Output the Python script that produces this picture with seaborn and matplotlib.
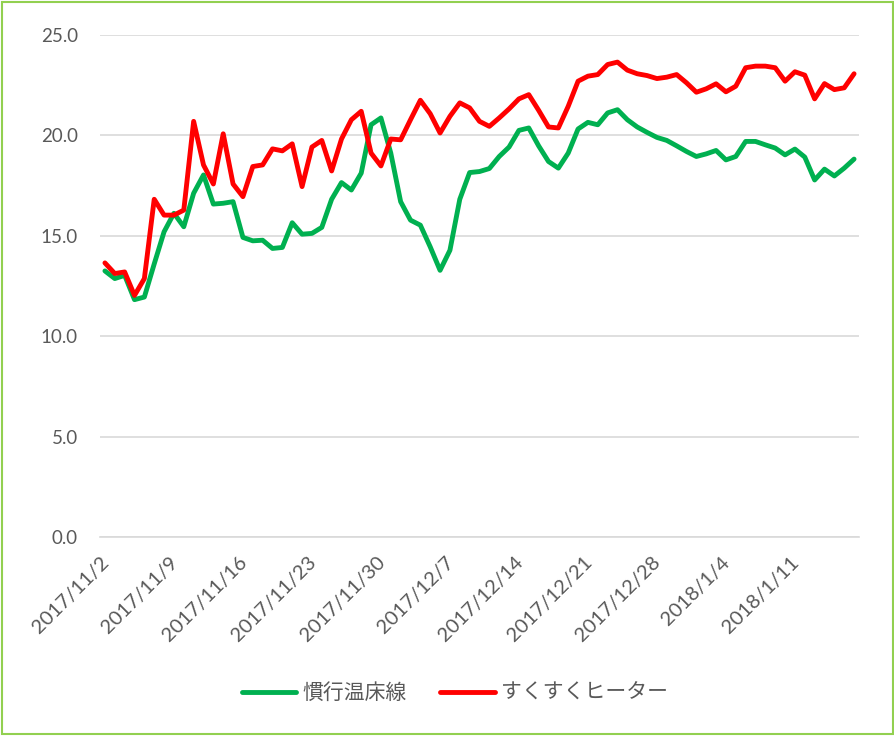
import pandas as pd
import numpy as np
import seaborn as sns
import matplotlib.pyplot as plt
import matplotlib.dates as mdates
from matplotlib.patches import Rectangle

# データ (2017/11/2 ～ 2018/1/17, 日別)
start_date = '2017-11-02'
end_date = '2018-01-17'
tick_dates = ['2017-11-02', '2017-11-09', '2017-11-16', '2017-11-23', '2017-11-30', '2017-12-07',
              '2017-12-14', '2017-12-21', '2017-12-28', '2018-01-04', '2018-01-11']
tick_labels = ['2017/11/2', '2017/11/9', '2017/11/16', '2017/11/23', '2017/11/30', '2017/12/7',
               '2017/12/14', '2017/12/21', '2017/12/28', '2018/1/4', '2018/1/11']
y_ticks = [0, 5, 10, 15, 20, 25]

kanko = [13.25, 12.87, 13.03, 11.82, 11.95, 13.6, 15.2, 16.12, 15.45, 17.12,
         18.03, 16.58, 16.62, 16.7, 14.92, 14.75, 14.78, 14.37, 14.42, 15.65,
         15.08, 15.12, 15.42, 16.82, 17.65, 17.28, 18.12, 20.53, 20.87, 19.12,
         16.7, 15.78, 15.53, 14.45, 13.28, 14.28, 16.82, 18.15, 18.2, 18.35,
         18.95, 19.42, 20.25, 20.37, 19.48, 18.7, 18.37, 19.12, 20.32, 20.65,
         20.53, 21.12, 21.28, 20.78, 20.42, 20.15, 19.9, 19.75, 19.48, 19.2,
         18.95, 19.08, 19.25, 18.78, 18.95, 19.7, 19.7, 19.53, 19.37, 19.03,
         19.32, 18.92, 17.78, 18.32, 17.98, 18.37, 18.82]

sukusuku = [13.65, 13.12, 13.2, 12.03, 12.87, 16.82, 16.03, 16.03, 16.28, 20.7,
            18.53, 17.58, 20.08, 17.58, 16.95, 18.45, 18.53, 19.33, 19.23, 19.58,
            17.45, 19.42, 19.75, 18.23, 19.82, 20.78, 21.2, 19.12, 18.48, 19.82,
            19.78, 20.78, 21.75, 21.08, 20.12, 20.95, 21.62, 21.37, 20.7, 20.45,
            20.87, 21.32, 21.82, 22.03, 21.25, 20.42, 20.37, 21.45, 22.7, 22.95,
            23.03, 23.53, 23.65, 23.25, 23.07, 22.98, 22.83, 22.9, 23.03, 22.62,
            22.15, 22.32, 22.57, 22.17, 22.45, 23.37, 23.45, 23.45, 23.37, 22.7,
            23.17, 23.0, 21.82, 22.58, 22.28, 22.37, 23.07]

series_names = ['慣行温床線', 'すくすくヒーター']
colors = ['#00B050', '#FF0000']

dates = pd.date_range(start_date, end_date, freq='D')
df = pd.DataFrame({'日付': list(dates) * 2,
                   '温度': kanko + sukusuku,
                   '系列': [series_names[0]] * len(kanko) + [series_names[1]] * len(sukusuku)})

sns.set_theme(style='white')
plt.rcParams['font.family'] = ['Lato', 'Noto Sans CJK JP', 'DejaVu Sans']

fig = plt.figure(figsize=(8.95, 7.36), dpi=100)
ax = fig.add_axes([100 / 895, 1 - 537 / 736, 759 / 895, 502 / 736])

sns.lineplot(data=df, x='日付', y='温度', hue='系列', palette=colors,
             linewidth=3.5, ax=ax, legend=False)

# 軸 (日付は区間の中央に点、目盛は区間の境界)
x0 = mdates.date2num(dates[0]) - 0.5
x1 = mdates.date2num(dates[-1]) + 0.5
ax.set_xlim(x0, x1)
ax.set_ylim(0, 25)
ax.set_yticks(y_ticks)
ax.set_yticklabels([f'{v:.1f}' for v in y_ticks])
tick_pos = [mdates.date2num(pd.Timestamp(d)) - 0.5 for d in tick_dates]
ax.set_xticks(tick_pos + [x1])
ax.set_xticklabels(tick_labels + [''], rotation=45, ha='right', rotation_mode='anchor')
ax.set_xlabel('')
ax.set_ylabel('')

ax.grid(axis='y', color='#D9D9D9', linewidth=1.2)
ax.set_axisbelow(True)
for s in ['left', 'right', 'top']:
    ax.spines[s].set_visible(False)
ax.spines['bottom'].set_color('#D9D9D9')
ax.spines['bottom'].set_linewidth(1.2)
ax.tick_params(axis='x', colors='#D9D9D9', length=5, width=1.2, direction='out',
               labelcolor='#595959', labelsize=14.5, pad=7)
ax.tick_params(axis='y', length=0, labelcolor='#595959', labelsize=13.5, pad=16)

# 凡例
handles = [plt.Line2D([], [], color=c, linewidth=3.5, solid_capstyle='round') for c in colors]
fig.legend(handles, series_names, loc='center', bbox_to_anchor=(455 / 895, 1 - 693 / 736),
           ncol=2, frameon=False, fontsize=15, handlelength=2.6, handletextpad=0.3,
           columnspacing=1.6, labelcolor='#595959')

# 枠線
fig.patches.append(Rectangle((0.002, 0.003), 0.996, 0.994, transform=fig.transFigure,
                             fill=False, edgecolor='#92D050', linewidth=1.5))

fig.savefig('out.png', dpi=100)
